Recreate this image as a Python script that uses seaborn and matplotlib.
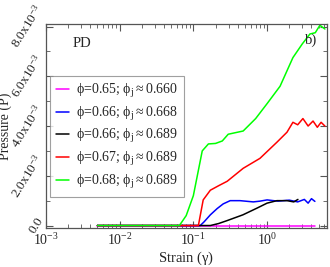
import matplotlib
matplotlib.use("Agg")
import matplotlib.pyplot as plt
import seaborn as sns
import pandas as pd
from matplotlib.ticker import LogLocator, FixedLocator, NullFormatter

# strain / pressure
strain_m = [0.005, 0.05, 0.2, 1.0, 4.5]
press_m = [0.0, 0.0, 0.0, 0.0, 0.0]

strain_b = [0.005, 0.124, 0.14, 0.17, 0.21, 0.254, 0.316, 0.43, 0.55, 0.65, 0.8, 1.0,
            1.4, 2.0, 2.6, 3.2, 3.6, 4.0, 4.45]
press_b = [0.0, 0.0, 0.15e-3, 0.43e-3, 0.68e-3, 0.87e-3, 1.0e-3, 1.0e-3, 0.97e-3, 0.95e-3,
           0.98e-3, 1.03e-3, 0.98e-3, 1.02e-3, 0.95e-3, 1.05e-3, 0.9e-3, 1.08e-3, 0.97e-3]

strain_k = [0.005, 0.17, 0.22, 0.288, 0.47, 0.73, 1.0, 1.36, 1.86, 2.3, 2.62]
press_k = [0.0, 0.0, 0.08e-3, 0.2e-3, 0.43e-3, 0.7e-3, 0.9e-3, 1.0e-3, 1.0e-3, 0.95e-3, 1.05e-3]

strain_r = [0.005, 0.117, 0.136, 0.17, 0.22, 0.288, 0.474, 0.8, 1.36, 1.86, 2.24, 2.6,
            3.06, 3.6, 4.2, 4.8, 5.4, 6.08]
press_r = [0.0, 0.0, 1.03e-3, 1.42e-3, 1.6e-3, 1.78e-3, 2.3e-3, 2.7e-3, 3.35e-3, 3.75e-3,
           4.15e-3, 4.05e-3, 4.3e-3, 4.0e-3, 4.2e-3, 3.95e-3, 4.15e-3, 4.0e-3]

strain_g = [0.005, 0.0647, 0.08, 0.1, 0.132, 0.16, 0.2, 0.247, 0.297, 0.474, 0.7, 1.0,
            1.5, 2.24, 3.0, 3.81, 4.5, 5.2, 6.08]
press_g = [0.0, 0.0, 0.4e-3, 1.2e-3, 3.0e-3, 3.28e-3, 3.3e-3, 3.4e-3, 3.67e-3, 3.8e-3,
           4.3e-3, 4.9e-3, 5.6e-3, 6.75e-3, 7.3e-3, 7.7e-3, 7.75e-3, 8.05e-3, 7.9e-3]

labels = [r"$\phi$=0.65; $\phi_j$$\approx$0.660",
          r"$\phi$=0.66; $\phi_j$$\approx$0.668",
          r"$\phi$=0.66; $\phi_j$$\approx$0.689",
          r"$\phi$=0.67; $\phi_j$$\approx$0.689",
          r"$\phi$=0.68; $\phi_j$$\approx$0.689"]
colors = ["#ff00ff", "#0000ff", "#000000", "#ff0000", "#00ff00"]

ytick_vals = [0.0, 2e-3, 4e-3, 6e-3, 8e-3]
ytick_labels = ["0.0", "2.0x10$^{-3}$", "4.0x10$^{-3}$", "6.0x10$^{-3}$", "8.0x10$^{-3}$"]

sns.set_style("ticks")
plt.rcParams["font.family"] = ["Liberation Serif", "DejaVu Serif"]
plt.rcParams["mathtext.fontset"] = "custom"
plt.rcParams["mathtext.rm"] = "Liberation Serif"
plt.rcParams["mathtext.it"] = "Liberation Serif"
plt.rcParams["mathtext.default"] = "regular"

fig = plt.figure(figsize=(3.3, 2.67), dpi=100)
ax = fig.add_axes([0.139, 0.146, 0.852, 0.764])

series = [(strain_m, press_m), (strain_b, press_b), (strain_k, press_k),
          (strain_r, press_r), (strain_g, press_g)]
for (xs, ys), lab, col in zip(series, labels, colors):
    df = pd.DataFrame({"strain": xs, "pressure": ys})
    sns.lineplot(data=df, x="strain", y="pressure", ax=ax, color=col,
                 linewidth=1.1, label=lab, sort=False, estimator=None)

ax.set_xscale("log")
ax.set_xlim(1e-3, 6.5)
ax.set_ylim(-0.0001, 0.0081)

ax.yaxis.set_major_locator(FixedLocator(ytick_vals))
ax.set_yticklabels(ytick_labels, rotation=58, fontsize=9.5, va="center", ha="right",
                   rotation_mode="default")
ax.yaxis.set_minor_locator(FixedLocator([1e-3, 3e-3, 5e-3, 7e-3]))
ax.xaxis.set_major_locator(LogLocator(base=10, numticks=10))
ax.xaxis.set_minor_locator(LogLocator(base=10, subs=range(2, 10), numticks=20))
ax.xaxis.set_minor_formatter(NullFormatter())
ax.tick_params(axis="x", labelsize=10, pad=3)
ax.tick_params(axis="y", pad=0)

ax.tick_params(which="both", direction="in", top=True, right=True, color="#555555")
ax.tick_params(which="major", length=5, width=0.8)
ax.tick_params(which="minor", length=3, width=0.6)
for sp in ax.spines.values():
    sp.set_color("#555555")
    sp.set_linewidth(0.9)

ax.set_xlabel(r"Strain ($\gamma$)", fontsize=10.5, labelpad=1)
ax.set_ylabel("Pressure (P)", fontsize=10)
ax.yaxis.set_label_coords(-0.12, 0.5)

ax.text(0.096, 0.907, "PD", transform=ax.transAxes, fontsize=10.5, va="center")
ax.text(0.945, 0.92, "b)", transform=ax.transAxes, fontsize=10.5, va="center", ha="center")

leg = ax.legend(loc="lower left", bbox_to_anchor=(0.005, 0.14), fontsize=10,
                frameon=True, fancybox=False, handlelength=1.0, handletextpad=0.5,
                labelspacing=0.35, borderpad=0.4, borderaxespad=0.2)
leg.get_frame().set_edgecolor("#888888")
leg.get_frame().set_linewidth(0.8)

fig.savefig("out.png", dpi=100)
plt.close(fig)
